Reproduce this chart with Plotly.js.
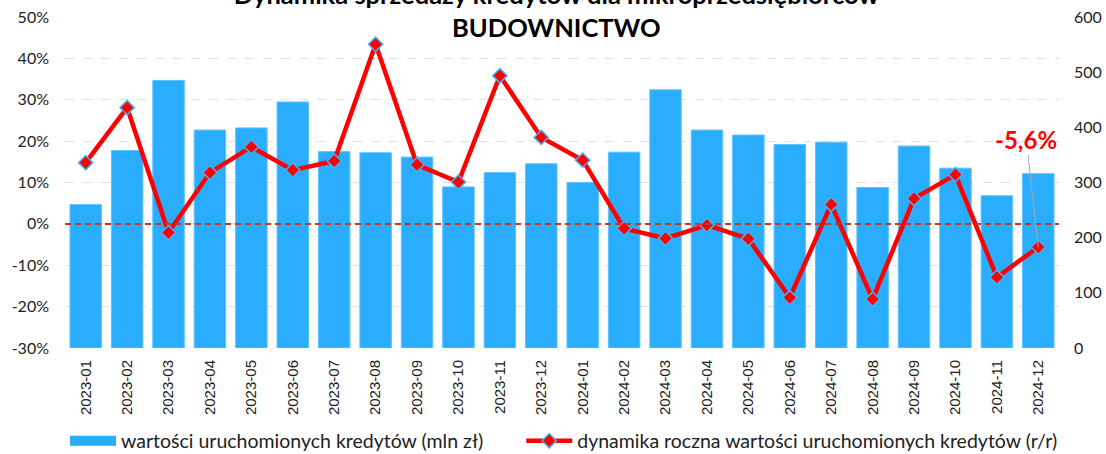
<!DOCTYPE html>
<html>
<head>
<meta charset="utf-8">
<script src="https://cdn.plot.ly/plotly-3.0.1.min.js"></script>
<style>html,body{margin:0;padding:0;background:#fff;}#chart{width:1106px;height:454px;}</style>
</head>
<body>
<div id="chart"></div>
<script>
// ---- data ----
const months = ['2023-01','2023-02','2023-03','2023-04','2023-05','2023-06','2023-07','2023-08','2023-09','2023-10','2023-11','2023-12',
                '2024-01','2024-02','2024-03','2024-04','2024-05','2024-06','2024-07','2024-08','2024-09','2024-10','2024-11','2024-12'];
const wartosci = [260, 358, 485, 395, 399, 446, 356, 354, 346, 292, 318, 334,
                  300, 355, 468, 395, 386, 369, 373, 291, 366, 326, 276, 316];
const dynamika = [14.8, 28.1, -2.1, 12.4, 18.6, 13.0, 15.2, 43.4, 14.3, 10.1, 35.8, 20.9,
                  15.4, -1.1, -3.5, -0.3, -3.6, -17.8, 4.7, -18.2, 6.1, 11.9, -12.9, -5.6];
const leftTickVals = [-30, -20, -10, 0, 10, 20, 30, 40, 50];
const leftTickText = ['-30%', '-20%', '-10%', '0%', '10%', '20%', '30%', '40%', '50%'];
const rightTickVals = [0, 100, 200, 300, 400, 500, 600];
const seriesNames = ['wartości uruchomionych kredytów (mln zł)', 'dynamika roczna wartości uruchomionych kredytów (r/r)'];
const titleText = 'Dynamika sprzedaży kredytów dla mikroprzedsiębiorców<br>BUDOWNICTWO';

const BLUE = '#2badfe';
const RED = '#ff0000';
const lastIdx = dynamika.length - 1;
const lastLabel = dynamika[lastIdx].toFixed(1).replace('.', ',') + '%';

const traces = [
  { type: 'bar', x: months, y: wartosci, yaxis: 'y', name: seriesNames[0], showlegend: false,
    marker: { color: BLUE, line: { color: '#5cc3ff', width: 1 } }, hoverinfo: 'x+y' },
  // legend proxy for the bars (wide rectangle swatch)
  { type: 'scatter', mode: 'lines', x: [null], y: [null], yaxis: 'y', name: seriesNames[0],
    line: { color: BLUE, width: 10 }, showlegend: true, legend: 'legend', hoverinfo: 'skip' },
  { type: 'scatter', mode: 'lines+markers', x: months, y: dynamika, yaxis: 'y2', name: seriesNames[1],
    legend: 'legend2',
    line: { color: RED, width: 4.5 },
    marker: { symbol: 'diamond', size: 11, color: RED, line: { color: '#3cb4f8', width: 1.5 } } }
];

const legendFont = { family: 'Lato', size: 19.5, color: '#222' };

const layout = {
  width: 1106, height: 454,
  margin: { l: 65, r: 47, t: 17, b: 106, autoexpand: false },
  paper_bgcolor: '#ffffff', plot_bgcolor: '#ffffff',
  font: { family: 'Lato, "Open Sans", sans-serif', color: '#222' },
  title: { text: titleText, font: { family: 'Lato', size: 25.5, color: '#000', weight: 'bold' },
           x: 0.503, xanchor: 'center', yref: 'container', y: 0.992, yanchor: 'bottom' },
  bargap: 0.24,
  xaxis: { type: 'category', range: [-0.5, months.length - 0.5], tickangle: -90, showgrid: false,
           zeroline: false, showline: false, ticks: '', ticklabelstandoff: 8,
           tickfont: { family: '"Liberation Sans", Arial, sans-serif', size: 15, color: '#222' } },
  yaxis: { side: 'right', range: [0, 600], tickvals: rightTickVals, showgrid: false,
           zeroline: false, showline: false, ticks: '', ticklabelstandoff: 14,
           tickfont: { family: 'Lato', size: 16, color: '#222' } },
  yaxis2: { overlaying: 'y', side: 'left', range: [-30, 50], tickvals: leftTickVals, ticktext: leftTickText,
            showgrid: true, gridcolor: '#e0e0e0', griddash: 'dash', gridwidth: 1, zeroline: false,
            showline: false, ticks: '', ticklabelstandoff: 15,
            tickfont: { family: 'Lato', size: 16, color: '#222' } },
  shapes: [
    { type: 'line', xref: 'paper', x0: 0, x1: 1, yref: 'y2', y0: 0, y1: 0,
      line: { color: '#c0392b', width: 2, dash: '6px,4px' }, layer: 'above' }
  ],
  annotations: [
    { x: months[lastIdx], y: dynamika[lastIdx], xref: 'x', yref: 'y2', text: lastLabel,
      showarrow: true, arrowhead: 0, arrowwidth: 1, arrowcolor: '#a6a6a6', ax: -12, ay: -108, standoff: 0,
      font: { family: 'Lato', size: 24, color: RED, weight: 'bold' } }
  ],
  legend: { orientation: 'h', x: 0, xanchor: 'left', yref: 'container', y: 0.0286, yanchor: 'middle',
            font: legendFont, itemwidth: 46, bgcolor: 'rgba(0,0,0,0)' },
  legend2: { orientation: 'h', x: 0.459, xanchor: 'left', yref: 'container', y: 0.0286, yanchor: 'middle',
             font: legendFont, itemwidth: 46, bgcolor: 'rgba(0,0,0,0)' },
  showlegend: true
};

Plotly.newPlot('chart', traces, layout, { displayModeBar: false, staticPlot: true });
</script>
</body>
</html>
